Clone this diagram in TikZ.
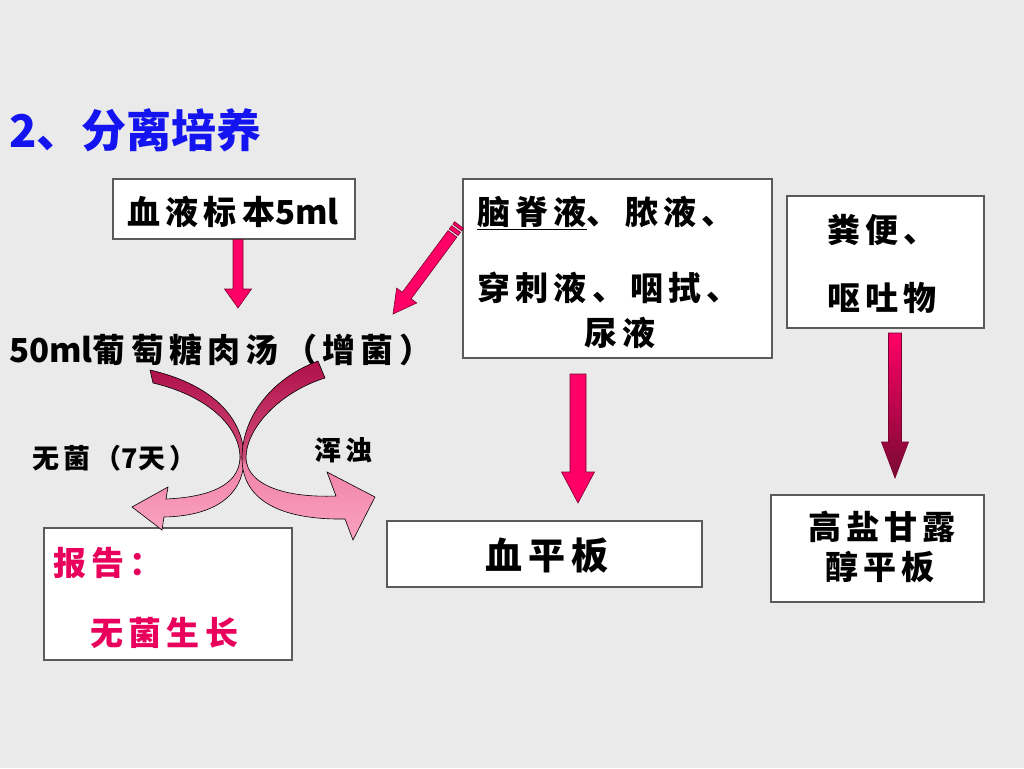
\documentclass[tikz,border=0pt]{standalone}
\usepackage{fontspec}
\usetikzlibrary{calc}
\newfontfamily\cjk[LetterSpace=16]{Noto Sans CJK SC}
\newfontfamily\cjkhei{Noto Sans CJK SC}
\definecolor{bg}{HTML}{EAEAEA}
\definecolor{boxgray}{HTML}{5A5A5A}
\definecolor{titleblue}{HTML}{1414F0}
\definecolor{arrowred}{HTML}{FF0066}
\definecolor{arrowedge}{HTML}{7A0030}
\definecolor{darkwine}{HTML}{780A32}
\definecolor{reportred}{HTML}{E8005C}
\definecolor{ribbontop}{HTML}{B0104A}
\definecolor{ribbonjoin}{HTML}{D04C78}
\definecolor{ribbonmid}{HTML}{F084A8}
\definecolor{ribbonlow}{HTML}{FAA2C0}
\pgfdeclareverticalshading{ribbon}{100bp}{color(0bp)=(ribbonlow); color(25bp)=(ribbonlow);
  color(46bp)=(ribbonmid); color(48bp)=(ribbonjoin); color(75bp)=(ribbontop); color(100bp)=(ribbontop)}
% block arrow: [opts]{from}{to}{half shaft}{half head}{head length}
\newcommand\blockarrow[6][]{%
  \draw[arrowpen,#1] let \p1=($(#3)-(#2)$), \n1={atan2(\y1,\x1)} in
    ($(#2)+(\n1+90:#4)$) -- ($(#3)!#6!(#2)+(\n1+90:#4)$) -- ($(#3)!#6!(#2)+(\n1+90:#5)$) -- (#3)
    -- ($(#3)!#6!(#2)+(\n1-90:#5)$) -- ($(#3)!#6!(#2)+(\n1-90:#4)$) -- ($(#2)+(\n1-90:#4)$) -- cycle;}
% tail stripe: {tail}{tip}{from}{to}{half width}
\newcommand\stripe[5]{%
  \draw[arrowpen] let \p1=($(#2)-(#1)$), \n1={atan2(\y1,\x1)} in
    ($(#1)!#3!(#2)+(\n1+90:#5)$) -- ($(#1)!#4!(#2)+(\n1+90:#5)$)
    -- ($(#1)!#4!(#2)+(\n1-90:#5)$) -- ($(#1)!#3!(#2)+(\n1-90:#5)$) -- cycle;}
\newcommand\lat[1]{{\cjkhei\bfseries #1}}
\begin{document}
\begin{tikzpicture}[x=1pt,y=-1pt]
  \tikzstyle{box}=[draw=boxgray,fill=white,line width=1.3pt,inner sep=0pt]
  \tikzstyle{txt}=[inner sep=0pt,font=\cjk\bfseries\fontsize{33}{36}\selectfont]
  \tikzstyle{small}=[inner sep=0pt,font=\cjk\bfseries\fontsize{27}{30}\selectfont]
  \tikzstyle{arrowpen}=[draw=arrowedge,fill=arrowred,line width=0.6pt]
  \tikzstyle{ribbonpen}=[shading=ribbon,draw=black,line width=0.6pt]
  \useasboundingbox (0,0) rectangle (1024,768);
  \fill[bg] (0,0) rectangle (1024,768);
  \node[anchor=west,inner sep=0pt,text=titleblue,font=\cjkhei\bfseries\fontsize{45}{48}\selectfont] (T) at (9,130) {2、分离培养};
  % boxes
  \node[box,minimum width=242,minimum height=60] (N_1) at (234,209) {};
  \node[box,minimum width=309,minimum height=179] (N_3) at (617.5,268.5) {};
  \node[box,minimum width=197,minimum height=132] (N_4) at (885.5,262) {};
  \node[box,minimum width=315,minimum height=66] (N_5) at (544.5,554) {};
  \node[box,minimum width=213,minimum height=107] (N_6) at (877.5,548.5) {};
  \node[box,minimum width=248,minimum height=132] (N_7) at (168,594) {};
  % texts
  \node[txt] at (233,212) {血液标本\lat{5ml}};
  \node[txt,anchor=west] (N_2) at (9,350) {\lat{50ml}葡萄糖肉汤（增菌）};
  \node[txt,anchor=west] at (477,213) {\underline{脑脊液}、脓液、};
  \node[txt,anchor=west] at (477,288) {穿刺液、咽拭、};
  \node[txt] at (620,333) {尿液};
  \node[txt,anchor=west] at (827,230) {粪便、};
  \node[txt,anchor=west] at (827,298) {呕吐物};
  \node[txt,font=\cjk\bfseries\fontsize{37}{40}\selectfont] at (547,556) {血平板};
  \node[txt] at (882,527) {高盐甘露};
  \node[txt] at (880,567) {醇平板};
  \node[txt,anchor=west,text=reportred] at (53,563) {报告：};
  \node[txt,anchor=west,text=reportred] at (90,633) {无菌生长};
  \node[small,anchor=west] (L_1) at (32,458) {无菌（\lat{7}天）};
  \node[small,anchor=west] (L_2) at (314,450) {浑浊};
  % straight arrows
  \coordinate (A_1) at (238,308);
  \coordinate (A_2s) at (578,374);
  \coordinate (A_2) at (578,503);
  \coordinate (A_3s) at (895,333);
  \coordinate (A_3) at (895,478);
  \blockarrow{N_1.south -| A_1}{A_1}{5pt}{13.5pt}{19pt}
  \blockarrow{A_2s}{A_2}{8pt}{16.5pt}{31pt}
  \blockarrow[top color=arrowred,bottom color=darkwine]{A_3s}{A_3}{6.5pt}{13.5pt}{36pt}
  % striped arrow
  \coordinate (D_s) at (459,225);
  \coordinate (D_t) at (393,314);
  \coordinate (D_b) at ($(D_s)!11pt!(D_t)$);
  \blockarrow{D_b}{D_t}{5.5pt}{12.5pt}{23pt}
  \stripe{D_s}{D_t}{0pt}{3pt}{5.5pt}
  \stripe{D_s}{D_t}{5pt}{9pt}{5.5pt}
  % curved ribbons
  \shade[ribbonpen] (150,370) .. controls (215,385) and (244,420) .. (244,458)
    .. controls (244,495) and (215,516) .. (164,517) -- (162,530) -- (132,507) -- (168,487) -- (166,499)
    .. controls (210,497) and (239,485) .. (240,458)
    .. controls (240,425) and (205,395) .. (153,383) -- cycle;
  \shade[ribbonpen] (318,361) .. controls (268,380) and (242,420) .. (242,458)
    .. controls (242,497) and (275,520) .. (345,519) -- (353,540) -- (375,497) -- (327,472) -- (336,496)
    .. controls (285,498) and (247,485) .. (246,458)
    .. controls (246,428) and (280,392) .. (325,378) -- cycle;
\end{tikzpicture}
\end{document}
